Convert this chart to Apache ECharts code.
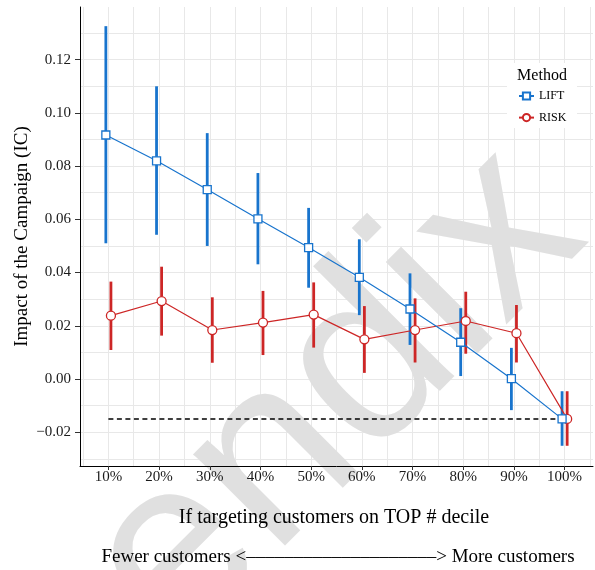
<!DOCTYPE html>
<html>
<head>
<meta charset="utf-8">
<script src="https://cdn.jsdelivr.net/npm/echarts@6/dist/echarts.min.js"></script>
<style>
  html, body { margin: 0; padding: 0; background: #fff; }
  #main { width: 595px; height: 570px; }
</style>
</head>
<body>
<div id="main"></div>
<script>
// categories (deciles)
var categories = ['10%', '20%', '30%', '40%', '50%', '60%', '70%', '80%', '90%', '100%'];
// LIFT: mean and interval
var liftMean = [0.0917, 0.0820, 0.0712, 0.0602, 0.0494, 0.0382, 0.0263, 0.0138, 0.0001, -0.0150];
var liftLow  = [0.0510, 0.0542, 0.0500, 0.0431, 0.0343, 0.0240, 0.0128, 0.0011, -0.0117, -0.0251];
var liftHigh = [0.1326, 0.1100, 0.0924, 0.0774, 0.0643, 0.0525, 0.0397, 0.0266, 0.0117, -0.0046];
// RISK: mean and interval
var riskMean = [0.0238, 0.0293, 0.0184, 0.0212, 0.0242, 0.0149, 0.0184, 0.0218, 0.0172, -0.0150];
var riskLow  = [0.0109, 0.0163, 0.0061, 0.0090, 0.0118, 0.0023, 0.0062, 0.0095, 0.0062, -0.0251];
var riskHigh = [0.0366, 0.0422, 0.0307, 0.0331, 0.0363, 0.0274, 0.0303, 0.0328, 0.0278, -0.0046];
// reference level (dashed)
var baseline = -0.015;
// tick labels
var yTicks = [-0.02, 0.00, 0.02, 0.04, 0.06, 0.08, 0.10, 0.12];
var xTicks = [1, 2, 3, 4, 5, 6, 7, 8, 9, 10];
// grid lines (major + minor)
var yGrid = [-0.03, -0.02, -0.01, 0.00, 0.01, 0.02, 0.03, 0.04, 0.05, 0.06, 0.07, 0.08, 0.09, 0.10, 0.11, 0.12, 0.13];
var xGrid = [0.5, 1, 1.5, 2, 2.5, 3, 3.5, 4, 4.5, 5, 5.5, 6, 6.5, 7, 7.5, 8, 8.5, 9, 9.5, 10, 10.5];

var BLUE = '#1874CD';
var RED = '#CD2626';
var SERIF = '"Liberation Serif", "DejaVu Serif", serif';
var dodge = 0.05;
var X_MIN = 0.44, X_MAX = 10.56;
var Y_MIN = -0.0327, Y_MAX = 0.1398;

function points(vals, off) {
  return vals.map(function (v, i) { return [i + 1 + off, v]; });
}
function bars(lo, hi, off) {
  return lo.map(function (v, i) { return [i + 1 + off, v, hi[i]]; });
}
function errorBar(color) {
  return function (params, api) {
    var x = api.value(0);
    var a = api.coord([x, api.value(1)]);
    var b = api.coord([x, api.value(2)]);
    return {
      type: 'line',
      shape: { x1: a[0], y1: a[1], x2: b[0], y2: b[1] },
      style: { stroke: color, lineWidth: 2.8 }
    };
  };
}

var chart = echarts.init(document.getElementById('main'), null, { renderer: 'canvas' });

var gridLine = { show: true, lineStyle: { color: '#e8e8e8', width: 1 } };

var option = {
  animation: false,
  backgroundColor: '#fff',
  grid: { left: 80, right: 2, top: 7, bottom: 104, containLabel: false },
  graphic: [
    {
      type: 'text', z: 1, x: 543, y: 192, rotation: Math.PI / 4,
      style: { text: 'Appendix', font: '245px "Liberation Sans"', fill: '#e0e0e0', align: 'right', verticalAlign: 'middle' }
    },
    {
      type: 'rect', z: 1, shape: { x: 507, y: 63, width: 70, height: 65 },
      style: { fill: '#fff' }
    },
    {
      type: 'text', z: 5, x: 542, y: 76,
      style: { text: 'Method', font: '16px ' + SERIF, fill: '#000', align: 'center', verticalAlign: 'middle' }
    },
    {
      type: 'text', z: 5, x: 334, y: 518,
      style: { text: 'If targeting customers on TOP # decile', font: '20px ' + SERIF, fill: '#000', align: 'center', verticalAlign: 'middle' }
    },
    {
      type: 'text', z: 5, x: 338, y: 557,
      style: { text: 'Fewer customers <\u2013\u2013\u2013\u2013\u2013\u2013\u2013\u2013\u2013\u2013\u2013\u2013\u2013\u2013\u2013\u2013\u2013\u2013\u2013\u2013> More customers', font: '19px ' + SERIF, fill: '#000', align: 'center', verticalAlign: 'middle' }
    }
  ],
  legend: {
    orient: 'vertical',
    left: 518,
    top: 90,
    padding: 0,
    itemWidth: 15,
    itemHeight: 9,
    itemGap: 9.6,
    data: ['LIFT', 'RISK'],
    textStyle: { fontFamily: SERIF, fontSize: 12, color: '#000' }
  },
  xAxis: [
    {
      type: 'value', z: 3,
      min: X_MIN, max: X_MAX,
      axisLine: { show: true, onZero: false, lineStyle: { color: '#000', width: 1 } },
      axisTick: { show: true, length: 4, lineStyle: { color: '#333' }, customValues: xTicks },
      axisLabel: {
        customValues: xTicks,
        margin: 4,
        fontFamily: SERIF, fontSize: 15, color: '#1a1a1a',
        formatter: function (v) { return categories[Math.round(v) - 1]; }
      },
      splitLine: { show: false }
    },
    {
      type: 'value', z: 0, position: 'top',
      min: X_MIN, max: X_MAX,
      axisLine: { show: false },
      axisTick: { show: false, customValues: xGrid },
      axisLabel: { show: false, customValues: xGrid },
      splitLine: gridLine
    }
  ],
  yAxis: [
    {
      type: 'value', z: 3,
      min: Y_MIN, max: Y_MAX,
      name: 'Impact of the Campaign (IC)',
      nameLocation: 'middle',
      nameGap: 48,
      nameMoveOverlap: false,
      nameTextStyle: { fontFamily: SERIF, fontSize: 19, color: '#000' },
      axisLine: { show: true, onZero: false, lineStyle: { color: '#000', width: 1 } },
      axisTick: { show: true, length: 5, lineStyle: { color: '#333' }, customValues: yTicks },
      axisLabel: {
        customValues: yTicks,
        margin: 9,
        fontFamily: SERIF, fontSize: 15, color: '#1a1a1a',
        formatter: function (v) {
          var s = Math.abs(v).toFixed(2);
          return v < -1e-9 ? '\u2212' + s : s;
        }
      },
      splitLine: { show: false }
    },
    {
      type: 'value', z: 0, position: 'right',
      min: Y_MIN, max: Y_MAX,
      axisLine: { show: false },
      axisTick: { show: false, customValues: yGrid },
      axisLabel: { show: false, customValues: yGrid },
      splitLine: gridLine
    }
  ],
  series: [
    {
      name: 'LIFT-err', type: 'custom', z: 4,
      renderItem: errorBar(BLUE),
      encode: { x: 0, y: [1, 2] },
      data: bars(liftLow, liftHigh, -dodge)
    },
    {
      name: 'RISK-err', type: 'custom', z: 4,
      renderItem: errorBar(RED),
      encode: { x: 0, y: [1, 2] },
      data: bars(riskLow, riskHigh, dodge)
    },
    {
      name: 'base', type: 'line', z: 4,
      symbol: 'none',
      lineStyle: { color: '#000', width: 1.5, type: [5, 3.5] },
      data: [[1, baseline], [10, baseline]]
    },
    {
      name: 'RISK', type: 'line', z: 5,
      symbol: 'circle', symbolSize: 9,
      lineStyle: { color: RED, width: 1.2 },
      itemStyle: { color: '#fff', borderColor: RED, borderWidth: 1.3 },
      data: points(riskMean, dodge)
    },
    {
      name: 'LIFT', type: 'line', z: 6,
      symbol: 'rect', symbolSize: 8,
      lineStyle: { color: BLUE, width: 1.2 },
      itemStyle: { color: '#fff', borderColor: BLUE, borderWidth: 1.3 },
      data: points(liftMean, -dodge)
    }
  ]
};

chart.setOption(option);
</script>
</body>
</html>
